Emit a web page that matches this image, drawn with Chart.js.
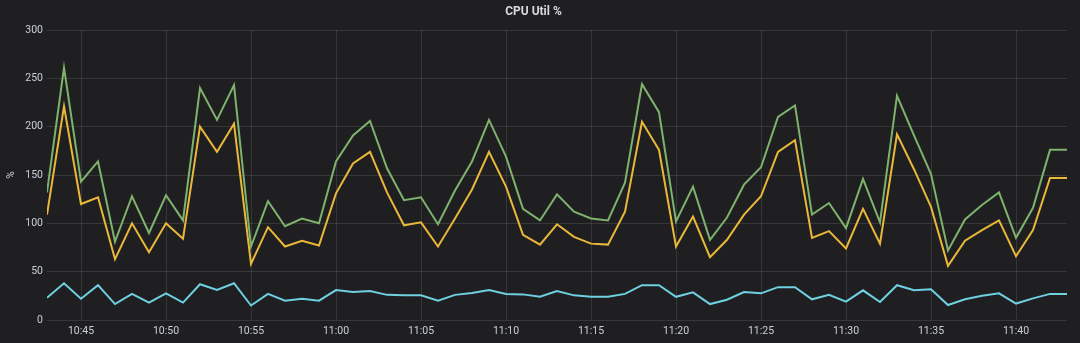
<!DOCTYPE html>
<html>
<head>
<meta charset="utf-8">
<script src="https://cdn.jsdelivr.net/npm/chart.js@4/dist/chart.umd.min.js"></script>
<style>
  html, body { margin: 0; padding: 0; background: #1f1f22; }
  #wrap { width: 1080px; height: 343px; position: relative; }
</style>
</head>
<body>
<div id="wrap"><canvas id="cpu"></canvas></div>
<script>
const times = [
  "10:43","10:44","10:45","10:46","10:47","10:48","10:49","10:50","10:51","10:52",
  "10:53","10:54","10:55","10:56","10:57","10:58","10:59","11:00","11:01","11:02",
  "11:03","11:04","11:05","11:06","11:07","11:08","11:09","11:10","11:11","11:12",
  "11:13","11:14","11:15","11:16","11:17","11:18","11:19","11:20","11:21","11:22",
  "11:23","11:24","11:25","11:26","11:27","11:28","11:29","11:30","11:31","11:32",
  "11:33","11:34","11:35","11:36","11:37","11:38","11:39","11:40","11:41","11:42",
  "11:43"
];
const greenSeries = [
  132,261,143,164,81,128,90,129,103,240,
  207,243,76,123,97,105,100,164,191,206,
  157,124,127,99,134,164,207,169,115,103,
  130,112,105,103,142,244,215,102,138,83,
  106,140,158,210,222,109,121,95,146,101,
  232,191,151,72,104,119,132,85,116,176,
  176
];
const yellowSeries = [
  109,221,120,127,63,100,70,100,84,200,
  174,203,58,96,76,82,77,131,162,174,
  132,98,101,76,105,135,174,138,88,78,
  99,86,79,78,112,205,176,76,107,65,
  83,109,128,174,186,85,92,74,115,79,
  192,156,117,56,82,93,103,66,93,147,
  147
];
const cyanSeries = [
  23,38,22,36,16.5,27,18,27.5,18,37,
  31,38,15,27,20,22,20,31,29,30,
  26,25.5,25.5,20,26,28,31,27,26.5,24,
  30,25.5,24,24,27,36,36,24,28.6,16.5,
  21,29,27.6,34,34,21.4,26,19,30.7,18.6,
  36,30.7,31.7,15.5,21.4,25,27.6,17,22.4,27,
  27
];
const xTickLabels = ["10:45","10:50","10:55","11:00","11:05","11:10","11:15","11:20","11:25","11:30","11:35","11:40"];
const yTicks = [0, 50, 100, 150, 200, 250, 300];

// "HH:MM" -> minutes, so the x axis can be linear
function toMin(t) {
  const p = t.split(":");
  return parseInt(p[0]) * 60 + parseInt(p[1]);
}
function toLabel(m) {
  const h = Math.floor(m / 60), mm = m % 60;
  return h + ":" + (mm < 10 ? "0" + mm : mm);
}
function pts(arr) {
  return arr.map((v, i) => ({ x: toMin(times[i]), y: v }));
}

const tickColor = "#c7d0d9";
const gridColor = "rgba(255,255,255,0.11)";

new Chart(document.getElementById("cpu").getContext("2d"), {
  type: "line",
  data: {
    datasets: [
      { label: "A", data: pts(greenSeries), borderColor: "#7eb26d", borderWidth: 2, pointRadius: 0, tension: 0 },
      { label: "B", data: pts(yellowSeries), borderColor: "#eab839", borderWidth: 2, pointRadius: 0, tension: 0 },
      { label: "C", data: pts(cyanSeries), borderColor: "#6ed0e0", borderWidth: 2, pointRadius: 0, tension: 0 },
    ],
  },
  options: {
    responsive: true,
    maintainAspectRatio: false,
    animation: false,
    layout: { padding: { left: 0, right: 13, top: 0, bottom: 0 } },
    plugins: {
      legend: { display: false },
      tooltip: { enabled: false },
      title: {
        display: true,
        text: "CPU Util %",
        color: "#d8d9da",
        font: { family: "Roboto", size: 12, weight: "bold" },
        padding: { top: 5, bottom: 10.6 },
      },
    },
    scales: {
      x: {
        type: "linear",
        min: toMin(times[0]),
        max: toMin(times[times.length - 1]),
        border: { display: false },
        grid: { color: gridColor, drawTicks: false },
        afterBuildTicks: (scale) => {
          scale.ticks = xTickLabels.map((t) => ({ value: toMin(t) }));
        },
        afterFit: (scale) => { scale.height = 23; },
        ticks: {
          color: tickColor,
          padding: 5,
          maxRotation: 0,
          autoSkip: false,
          font: { family: "Roboto", size: 10.5 },
          callback: (v) => toLabel(v),
        },
      },
      y: {
        min: yTicks[0],
        max: yTicks[yTicks.length - 1],
        border: { display: false },
        grid: { color: gridColor, drawTicks: false },
        afterFit: (scale) => { scale.width = 47; },
        ticks: {
          stepSize: 50,
          color: tickColor,
          padding: 4,
          font: { family: "Roboto", size: 10.5 },
        },
        title: {
          display: true,
          text: "%",
          color: tickColor,
          padding: { top: 5, bottom: 0 },
          font: { family: "Roboto", size: 10 },
        },
      },
    },
  },
});
</script>
</body>
</html>
